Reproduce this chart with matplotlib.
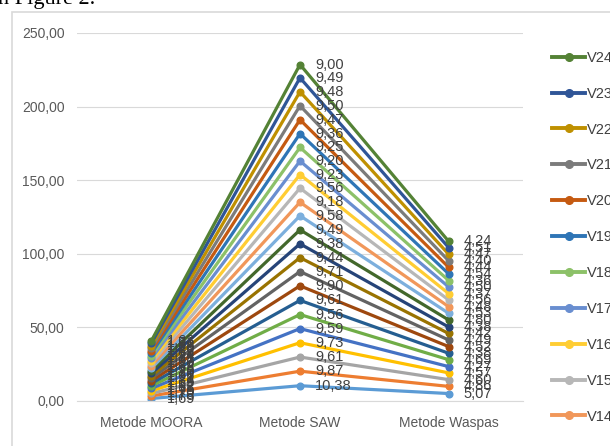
import numpy as np
import matplotlib.pyplot as plt
from matplotlib.lines import Line2D
from matplotlib.patches import Rectangle

categories = ["Metode MOORA", "Metode SAW", "Metode Waspas"]
series_names = ["V%d" % i for i in range(1, 25)]

moora = [1.69, 1.73, 1.70, 1.75, 1.68, 1.72, 1.69, 1.74, 1.71, 1.66, 1.70, 1.73,
         1.68, 1.72, 1.70, 1.67, 1.71, 1.74, 1.69, 1.72, 1.70, 1.68, 1.71, 1.63]
saw = [10.38, 9.87, 9.61, 9.73, 9.59, 9.56, 9.61, 9.90, 9.71, 9.44, 9.38, 9.49,
       9.58, 9.18, 9.56, 9.23, 9.20, 9.25, 9.36, 9.47, 9.50, 9.48, 9.49, 9.00]
waspas = [5.07, 4.86, 4.60, 4.57, 4.27, 4.69, 4.38, 4.52, 4.49, 4.42, 4.38, 4.80,
          4.53, 4.48, 4.56, 4.37, 4.50, 4.36, 4.54, 4.44, 4.40, 4.47, 4.51, 4.24]

colors = ["#5B9BD5", "#ED7D31", "#A5A5A5", "#FFC000", "#4472C4", "#70AD47",
          "#255E91", "#9E480E", "#636363", "#997300", "#264478", "#43682B",
          "#7CAFDD", "#F1975A", "#B7B7B7", "#FFCD33", "#698ED0", "#8CC168",
          "#2E75B6", "#C55A11", "#7B7B7B", "#BF9000", "#2F5597", "#548235"]

values = np.array([moora, saw, waspas]).T   # rows = series
stacked = np.cumsum(values, axis=0)

W, H = 610, 446
fig = plt.figure(figsize=(W / 100, H / 100), dpi=100)
ax = fig.add_axes([77 / W, (H - 401) / H, 446 / W, 368 / H])

x = np.arange(len(categories))
handles = []
for i, name in enumerate(series_names):
    ln, = ax.plot(x, stacked[i], color=colors[i], lw=2.3, marker="o",
                  markersize=4.8, label=name, zorder=2 + i * 0.01)
    handles.append(ln)
    for j in range(len(categories)):
        ax.annotate(("%.2f" % values[i, j]).replace(".", ","),
                    (x[j], stacked[i, j]), xytext=(11, 0),
                    textcoords="offset points", va="center", ha="left",
                    fontsize=10.5, color="#404040",
                    family="Liberation Sans", zorder=5)

ax.set_xlim(-0.5, 2.5)
ax.set_ylim(0, 250)
ax.set_yticks(np.arange(0, 251, 50))
ax.set_yticklabels([("%.2f" % v).replace(".", ",") for v in np.arange(0, 251, 50)])
ax.set_xticks(x)
ax.set_xticklabels(categories)
ax.tick_params(axis="y", length=0, labelsize=10, labelcolor="#595959", pad=9)
ax.tick_params(axis="x", length=0, labelsize=10, labelcolor="#595959", pad=11)
for lab in ax.get_xticklabels() + ax.get_yticklabels():
    lab.set_family("Liberation Sans")
ax.grid(axis="y", color="#D9D9D9", lw=0.8)
ax.set_axisbelow(True)
for s in ["top", "right", "left"]:
    ax.spines[s].set_visible(False)
ax.spines["bottom"].set_color("#D9D9D9")

# legend only shows the upper series, the rest runs off the chart
shown = handles[::-1][:11]
leg_handles = [Line2D([], [], color=h.get_color(), lw=2.8, marker="o",
                      markersize=5.5) for h in shown]
fig.legend(leg_handles, [h.get_label() for h in shown], loc="upper left",
           bbox_to_anchor=(546 / W, 1 - 45 / H), frameon=False,
           prop={"family": "Liberation Sans", "size": 10.5},
           labelcolor="#404040", handlelength=2.3, handletextpad=0.1,
           labelspacing=1.5, borderaxespad=0)

fig.patches.append(Rectangle((12 / W, -0.1), 1.0, 1 - 12 / H + 0.1,
                             transform=fig.transFigure, fill=False,
                             edgecolor="#D9D9D9", lw=1.2))
fig.text(-2 / W, 1 - 4 / H, "n Figure 2.", family="Liberation Serif",
         fontsize=16, va="baseline", ha="left", color="black")

fig.savefig("out.png", dpi=100)
